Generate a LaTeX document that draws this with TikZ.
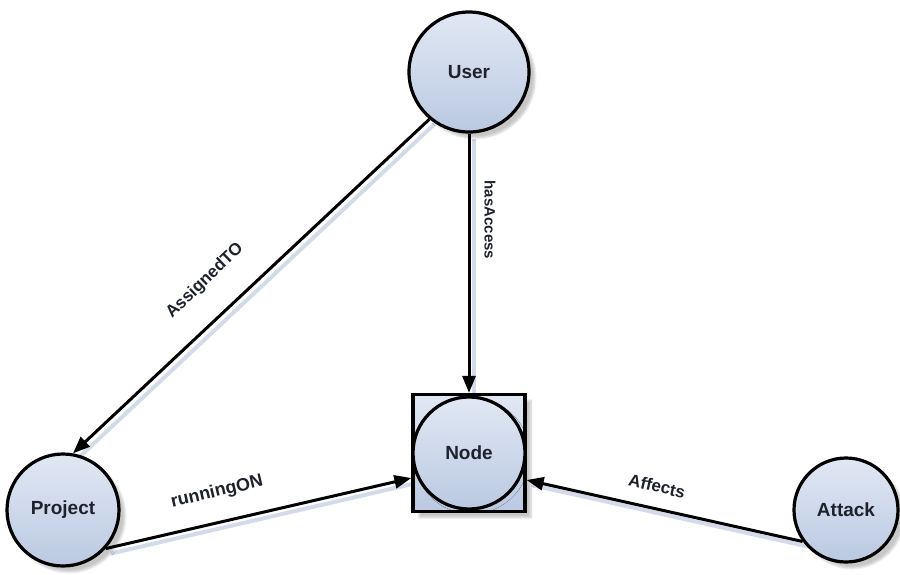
\documentclass[tikz,border=0pt]{standalone}
\usepackage{fontspec}
\setmainfont{Liberation Sans}
\usetikzlibrary{arrows.meta,shadows.blur,calc}
\pgfdeclarelayer{under}
\pgfsetlayers{under,main}
\definecolor{fillTop}{HTML}{E1E8F4}
\definecolor{fillBot}{HTML}{BAC9E1}
\definecolor{inkText}{HTML}{1E222C}
\definecolor{shadeLine}{HTML}{D3DBEA}
\begin{document}
\begin{tikzpicture}[x=1pt,y=-1pt,
  softshadow/.style={blur shadow={shadow xshift=6pt, shadow yshift=-6pt,
      shadow opacity=22, shadow blur steps=6}},
  entity/.style={circle, draw=black, line width=3.2pt, inner sep=0pt,
      minimum size=#1, top color=fillTop, bottom color=fillBot,
      text=inkText, font=\bfseries\fontsize{19}{19}\selectfont, softshadow},
  frame/.style={rectangle, draw=black, line width=3.2pt, inner sep=0pt,
      top color=fillTop, bottom color=fillBot, softshadow},
  rel/.style={draw=black, line width=3pt,
      -{Triangle[length=17pt,width=13pt]}},
  relshadow/.style={draw=shadeLine, line width=4pt,
      transform canvas={shift={(5pt,-5pt)}}},
  lbl/.style={inner sep=0pt, text=inkText,
      font=\bfseries\fontsize{#1}{#1}\selectfont},
  lbl/.default=17]

\useasboundingbox (0,0) rectangle (900,574);

% entities
\node[entity=120pt] (user) at (469,72) {User};
\node[entity=112pt] (project) at (63,510) {Project};
\node[entity=104pt] (attack) at (846,510) {Attack};
\node[frame, minimum width=112pt, minimum height=117pt] (box) at (469,453) {};
\node[entity=112pt, blur shadow={shadow opacity=0}] (node) at (469,453) {Node};

% attachment points on the framed node
\coordinate (boxL) at ($(box.west)+(0,25)$);
\coordinate (boxR) at ($(box.east)+(0,27)$);

% faint shadows under the connectors
\begin{pgfonlayer}{under}
\path[relshadow] (user.south) -- (box.north);
\path[relshadow] (user.230) -- (project.80);
\path[relshadow] (project.-42) -- (boxL);
\path[relshadow] (attack.216) -- (boxR);
\end{pgfonlayer}

% connectors
\path[rel] (user.south) -- (box.north);
\path[rel] (user.230) -- (project.80);
\path[rel] (project.-42) -- (boxL);
\path[rel] (attack.216) -- (boxR);

% connector labels
\node[lbl=15, rotate=-90] (lhas) at (490,220) {hasAccess};
\node[lbl=17, rotate=44] (lassign) at (205,281) {AssignedTO};
\node[lbl=18, rotate=13] (lrun) at (217,492) {runningON};
\node[lbl=17, rotate=-13] (laff) at (657,486) {Affects};
\end{tikzpicture}
\end{document}
